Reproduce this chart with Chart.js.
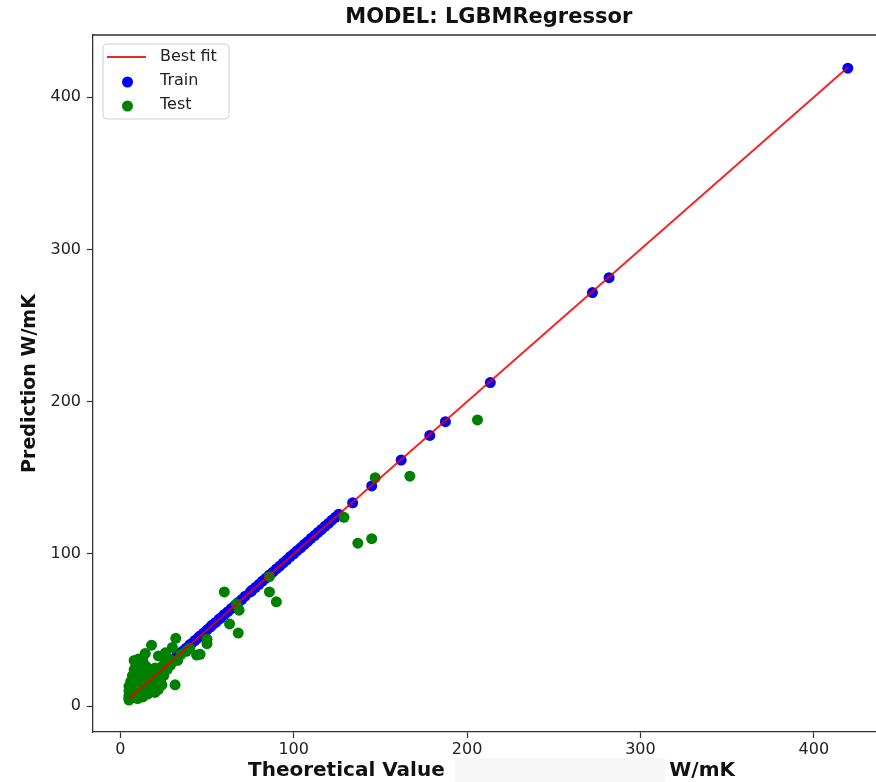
<!DOCTYPE html>
<html>
<head>
<meta charset="utf-8">
<script src="https://cdn.jsdelivr.net/npm/chart.js@4.4.1/dist/chart.umd.min.js"></script>
<style>
    html, body { margin: 0; padding: 0; background: #fff; overflow: hidden; }
    #wrap { width: 876px; height: 782px; overflow: hidden; }
</style>
</head>
<body>
<div id="wrap"><canvas id="mycanvas" width="890" height="782"></canvas></div>
<script>
// values
const fitX = [5, 420];
const fitY = [5, 420];

const trainTrue = [5, 6, 7, 8, 9, 10, 11, 12, 13, 14, 15, 16, 17, 18, 19, 20, 21, 22, 24, 25, 26, 28, 29, 30,
    32, 33, 35, 36, 38, 40, 41, 43, 45, 46, 48, 50, 52, 53, 55, 57, 58, 60, 62, 64, 66, 68, 70, 72, 75, 76,
    78, 80, 82, 84, 86, 88, 90, 92, 94, 96, 98, 100, 102, 104, 106, 108, 110, 112, 114, 116, 118, 120, 122,
    124, 126, 134, 145, 162, 178.5, 187.5, 213.4, 272.3, 281.9, 419.6];
const trainPred = [5.2, 6, 7.1, 8, 9.1, 10, 11, 12.1, 13, 14, 15.1, 16, 17, 18.2, 19, 20, 21.1, 22, 24.1, 25, 26.2, 28, 29.1, 30,
    32.1, 33, 35, 36.1, 38, 40.2, 41, 43.1, 45, 46.1, 48, 50.1, 52, 53.2, 55, 57.1, 58, 60.2, 62, 64.1, 66, 68.1, 70, 72.2, 75, 76.1,
    78, 80, 82.1, 84, 86.2, 88, 90.1, 92, 94.1, 96, 98.2, 100, 102.1, 104, 106.1, 108, 110.2, 112, 114.1, 116, 118.1, 120, 122.1,
    124, 126.1, 133.5, 144.6, 161.6, 177.8, 186.8, 212.5, 271.6, 281.4, 419];

const testTrue = [206, 167, 147, 137, 145, 129, 90, 86, 86, 68, 63, 68.5, 67, 60, 50, 50, 46, 44, 40, 32, 30, 18, 10.5, 31.6, 14.4,
    5, 5, 5, 5, 6, 6, 7, 7, 7, 8, 8, 8, 9, 9, 9, 10, 10, 10, 11, 11, 11, 12, 12, 12, 13, 13, 14, 14, 14, 15, 15,
    16, 16, 16, 17, 17, 18, 18, 19, 20, 20, 20, 21, 22, 22, 23, 24, 25, 26, 27, 28, 22, 13, 8, 12, 24, 26, 29, 33, 35, 38];
const testPred = [188, 151, 150, 107, 110, 124, 68.5, 75, 85, 48, 54, 63, 67, 75, 44, 41, 34, 33.5, 38, 44.5, 38.5, 40, 31, 14, 34.6,
    4, 7, 10, 13, 16, 5, 9, 12, 20, 6, 14, 24, 10, 18, 27, 5, 13, 22, 8, 16, 28, 11, 19, 24, 6, 14, 9, 17, 22, 12, 26,
    8, 15, 20, 11, 24, 17, 21, 13, 9, 19, 25, 14, 22, 11, 17, 26, 20, 29, 24, 31, 33, 30, 30, 27, 14, 35, 27, 30, 34, 36];

const xTicks = [0, 100, 200, 300, 400];
const yTicks = [0, 100, 200, 300, 400];
const titleText = 'MODEL: LGBMRegressor';
const xLabelLeft = 'Theoretical Value';
const xLabelRight = 'W/mK';
const yLabel = 'Prediction W/mK';

const toPoints = function (xs, ys) {
    return xs.map(function (x, i) { return {x: x, y: ys[i]}; });
};

const FONT = "'DejaVu Sans', sans-serif";

const decor = {
    id: 'decor',
    afterDraw: function (chart) {
        const ctx = chart.ctx;
        const a = chart.chartArea;
        ctx.save();
        // top / right spines
        ctx.strokeStyle = '#333';
        ctx.lineWidth = 1.3;
        ctx.beginPath();
        ctx.moveTo(a.left, a.top);
        ctx.lineTo(a.right, a.top);
        ctx.lineTo(a.right, a.bottom);
        ctx.stroke();

        // title
        ctx.fillStyle = '#111';
        ctx.font = 'bold 21px ' + FONT;
        ctx.textAlign = 'center';
        ctx.textBaseline = 'middle';
        ctx.fillText(titleText, (a.left + a.right) / 2, 18);

        // x label, with the pale patch over its middle
        ctx.font = 'bold 20px ' + FONT;
        ctx.fillStyle = '#f6f6f6';
        ctx.fillRect(455, 758, 210, 24);
        ctx.fillStyle = '#111';
        ctx.textAlign = 'left';
        ctx.fillText(xLabelLeft, 248, 771);
        ctx.textAlign = 'right';
        ctx.fillText(xLabelRight, 735, 771);

        // legend box
        const bx = 103, by = 44, bw = 126, bh = 75;
        ctx.beginPath();
        ctx.roundRect(bx, by, bw, bh, 4);
        ctx.fillStyle = 'rgba(255,255,255,0.8)';
        ctx.fill();
        ctx.strokeStyle = '#cfcfcf';
        ctx.lineWidth = 1;
        ctx.stroke();

        const ds = chart.data.datasets;
        ctx.font = '16px ' + FONT;
        ctx.textAlign = 'left';
        ctx.textBaseline = 'middle';
        const rows = [57, 81, 105];
        ds.forEach(function (d, i) {
            const y = rows[i];
            if (d.showLine) {
                ctx.strokeStyle = d.borderColor;
                ctx.lineWidth = 2;
                ctx.beginPath();
                ctx.moveTo(107, y);
                ctx.lineTo(146, y);
                ctx.stroke();
            } else {
                ctx.fillStyle = d.backgroundColor;
                ctx.beginPath();
                ctx.arc(127.5, y + 1, 5.5, 0, Math.PI * 2);
                ctx.fill();
            }
            ctx.fillStyle = '#222';
            ctx.fillText(d.label, 160, y);
        });
        ctx.restore();
    }
};

const loadChart = function () {
    const ctx = document.getElementById('mycanvas').getContext('2d');
    const tickFont = {family: FONT, size: 16};
    new Chart(ctx, {
        type: 'scatter',
        data: {
            datasets: [{
                label: 'Best fit',
                data: toPoints(fitX, fitY),
                showLine: true,
                borderColor: 'rgba(240, 0, 0, 0.85)',
                borderWidth: 2,
                pointRadius: 0,
                fill: false,
                order: 0
            }, {
                label: 'Train',
                data: toPoints(trainTrue, trainPred),
                backgroundColor: '#0000ff',
                borderWidth: 0,
                pointRadius: 5.5,
                order: 2
            }, {
                label: 'Test',
                data: toPoints(testTrue, testPred),
                backgroundColor: '#008000',
                borderWidth: 0,
                pointRadius: 5.5,
                order: 1
            }]
        },
        options: {
            responsive: false,
            animation: false,
            events: [],
            layout: {padding: {top: 35, right: 2, left: 0, bottom: 0}},
            plugins: {
                legend: {display: false},
                tooltip: {enabled: false},
                title: {display: false}
            },
            scales: {
                x: {
                    type: 'linear',
                    min: -15.75,
                    max: 440.75,
                    afterBuildTicks: function (s) { s.ticks = xTicks.map(function (v) { return {value: v}; }); },
                    afterFit: function (s) { s.height = 50; },
                    grid: {drawOnChartArea: false, drawTicks: true, tickLength: 6, color: '#333', tickWidth: 1.2},
                    border: {color: '#333', width: 1.3},
                    ticks: {color: '#222', font: tickFont, padding: 2, maxRotation: 0}
                },
                y: {
                    type: 'linear',
                    min: -17,
                    max: 440.8,
                    afterBuildTicks: function (s) { s.ticks = yTicks.map(function (v) { return {value: v}; }); },
                    afterFit: function (s) { s.width = 93; },
                    grid: {drawOnChartArea: false, drawTicks: true, tickLength: 6, color: '#333', tickWidth: 1.2},
                    border: {color: '#333', width: 1.3},
                    ticks: {color: '#222', font: tickFont, padding: 6},
                    title: {
                        display: true,
                        text: yLabel,
                        color: '#111',
                        font: {family: FONT, size: 19, weight: 'bold'},
                        padding: {top: 19, bottom: 0}
                    }
                }
            }
        },
        plugins: [decor]
    });
};

window.onload = function () {
    loadChart();
};
</script>
</body>
</html>
